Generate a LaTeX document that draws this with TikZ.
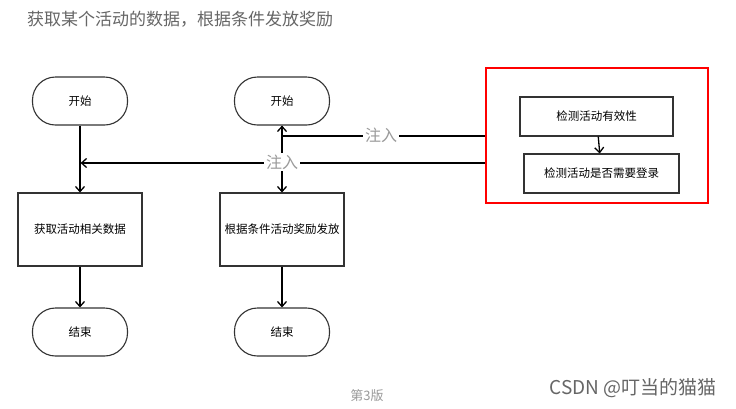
\documentclass[tikz,border=0pt]{standalone}
\usepackage{fontspec}
\setmainfont{Noto Sans CJK SC}
\usetikzlibrary{arrows.meta}
\definecolor{edge}{HTML}{333333}
\definecolor{lblgray}{HTML}{9A9A9A}
\definecolor{titlegray}{HTML}{666666}
\tikzset{
  term/.style={draw=edge, line width=1.1pt, rounded corners=23pt, minimum width=95pt, minimum height=48pt, font=\fontsize{11.5}{13}\selectfont, inner sep=0pt},
  proc/.style={draw=edge, line width=1.1pt, minimum height=73pt, font=\fontsize{11.5}{13}\selectfont, inner sep=0pt},
  subproc/.style={draw=edge, line width=1.1pt, minimum height=39pt, font=\fontsize{11.5}{13}\selectfont, inner sep=0pt},
  conn/.style={draw=black, line width=1.3pt, -{Straight Barb[length=5pt,width=9pt,line width=1.3pt]}},
  lbl/.style={fill=white, text=lblgray, font=\fontsize{16}{18}\selectfont, inner sep=2pt},
}
\begin{document}
\begin{tikzpicture}[x=1pt,y=-1pt]
\useasboundingbox[fill=white] (0,0) rectangle (736,408);
% title
\node[anchor=west, text=titlegray, font=\fontsize{17}{19}\selectfont, inner sep=0pt] (title) at (27,19) {获取某个活动的数据，根据条件发放奖励};
% left column
\node[term] (s1) at (80,101) {开始};
\node[proc, minimum width=124pt] (b1) at (80,229.5) {获取活动相关数据};
\node[term] (e1) at (80,332) {结束};
% middle column
\node[term] (s2) at (282,101) {开始};
\node[proc, minimum width=124pt] (b2) at (282,229.5) {根据条件活动奖励发放};
\node[term] (e2) at (282,332) {结束};
% red group
\node[draw=red, line width=1.6pt, minimum width=222pt, minimum height=135pt, inner sep=0pt] (grp) at (597,135.5) {};
\node[subproc, minimum width=153pt] (c1) at (596.5,116.5) {检测活动有效性};
\node[subproc, minimum width=155pt] (c2) at (601.5,173.5) {检测活动是否需要登录};
% connector endpoints on the red box
\coordinate (in1) at (grp.west |- 0,136);
\coordinate (in2) at (grp.west |- 0,163);
\coordinate (j1) at (s1.south |- in2);
% connectors
\draw[conn] (s1) -- (b1);
\draw[conn] (b1) -- (e1);
\draw[conn] (s2) -- (b2);
\draw[conn] (b2) -- (e2);
\draw[conn] (c1) -- (c2);
\draw[conn] (in1) -| (s2.south);
\draw[conn, shorten >=0.6pt] (in2) -- (j1);
% labels
\node[lbl] (l1) at (381,135) {注入};
\node[lbl] (l2) at (282,162) {注入};
% footer
\node[text=lblgray, font=\fontsize{13}{15}\selectfont, inner sep=0pt] (ver) at (367,396) {第3版};
\node[text=titlegray, font=\fontsize{19}{21}\selectfont, inner sep=0pt] (wm) at (633,388) {CSDN @叮当的猫猫};
\end{tikzpicture}
\end{document}
